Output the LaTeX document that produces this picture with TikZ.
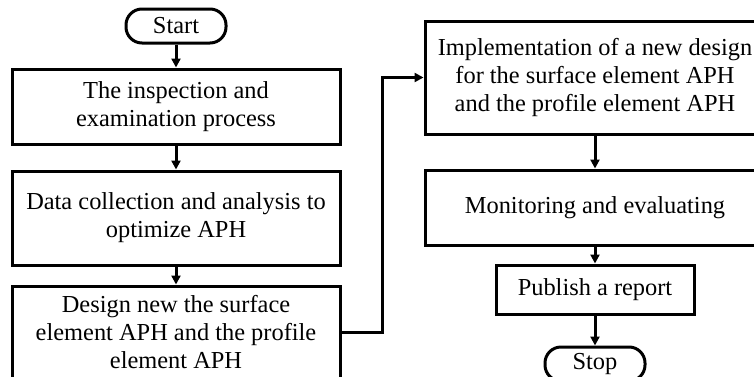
\documentclass[tikz,border=0pt]{standalone}
\usepackage{fontspec}
\setmainfont{Liberation Serif}
\usetikzlibrary{arrows.meta}
\tikzset{
  every node/.style={font=\fontsize{24.4}{28}\selectfont, align=center, inner sep=0pt},
  procbox/.style={draw, line width=3pt, rectangle},
  termbox/.style={draw, line width=3pt, rectangle, rounded corners=16pt,
                  minimum width=100pt, minimum height=34pt},
  flow/.style={line width=3pt, -{Triangle[length=9pt,width=9pt]}}
}
\begin{document}
\begin{tikzpicture}[x=1pt,y=1pt]
\useasboundingbox (0,0) rectangle (754,376);
\clip (0,0) rectangle (754,376);
\fill[white] (0,0) rectangle (754,376);

% left column
\node[termbox] (start) at (176,350) {Start};
\node[procbox, minimum width=328pt, minimum height=75pt] (b1) at (176,269.5)
  {The inspection and\\examination process};
\node[procbox, minimum width=328pt, minimum height=94pt] (b2) at (176,158)
  {Data collection and analysis to\\optimize APH};
\node[procbox, minimum width=328pt, minimum height=92pt] (b3) at (176,44)
  {Design new the surface\\element APH and the profile\\element APH};

% right column
\node[procbox, minimum width=340pt, minimum height=113pt] (b4) at (595,298.5)
  {Implementation of a new design\\for the surface element APH\\and the profile element APH};
\node[procbox, minimum width=340pt, minimum height=75pt] (b5) at (595,168.5)
  {Monitoring and evaluating};
\node[procbox, minimum width=198pt, minimum height=49pt] (b6) at (595,86.5)
  {Publish a report};
\node[termbox] (stop) at (595,12) {Stop};

\coordinate (j1) at (382,298.5);

% connectors
\draw[flow] (start) -- (b1);
\draw[flow] (b1) -- (b2);
\draw[flow] (b2) -- (b3);
\draw[flow] (b3.east) -| (j1) -- (b4.west);
\draw[flow] (b4) -- (b5);
\draw[flow] (b5) -- (b6);
\draw[flow] (b6) -- (stop);
\end{tikzpicture}
\end{document}
